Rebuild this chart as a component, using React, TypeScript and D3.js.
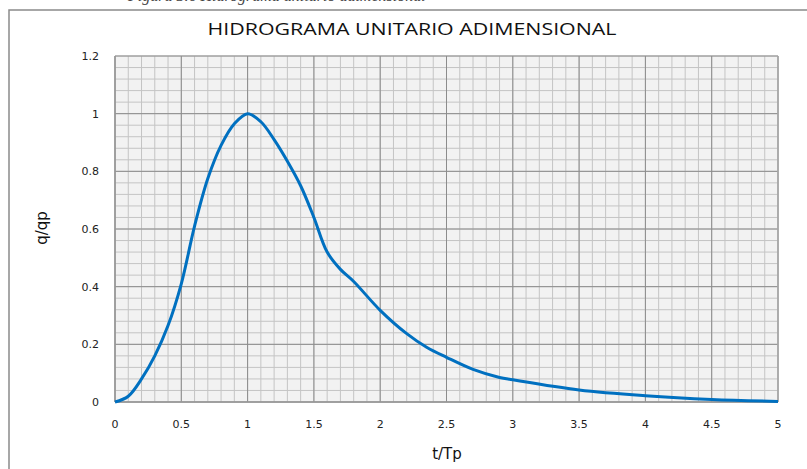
import React, { useEffect, useRef } from 'react'
import * as d3 from 'd3'

// t/Tp vs q/qp
const tRatio = [0, 0.1, 0.2, 0.3, 0.4, 0.5, 0.6, 0.7, 0.8, 0.9, 1.0, 1.1, 1.2, 1.3, 1.4, 1.5, 1.6, 1.7, 1.8, 2.0, 2.2, 2.35, 2.5, 2.7, 2.9, 3.0, 3.5, 4.0, 4.5, 5.0]
const qRatio = [0, 0.02, 0.08, 0.16, 0.265, 0.41, 0.61, 0.775, 0.89, 0.965, 1.0, 0.972, 0.91, 0.835, 0.75, 0.64, 0.52, 0.46, 0.418, 0.318, 0.237, 0.19, 0.155, 0.113, 0.085, 0.077, 0.042, 0.022, 0.009, 0.002]
const xTicks = [0, 0.5, 1, 1.5, 2, 2.5, 3, 3.5, 4, 4.5, 5]
const yTicks = [0, 0.2, 0.4, 0.6, 0.8, 1, 1.2]

export default function App() {
  const ref = useRef<HTMLDivElement | null>(null)

  useEffect(() => {
    const container = d3.select(ref.current!)
    container.selectAll('*').remove()
    const width = 807
    const height = 469
    const m = { top: 56, right: 29, bottom: 67, left: 115 }
    const svg = container.append('svg')
      .attr('width', width).attr('height', height)
      .style('position', 'absolute').style('left', '0px').style('top', '0px')

    svg.append('rect').attr('width', width).attr('height', height).attr('fill', '#fff')

    // caption cut off at the top of the image (only its lower edge shows)
    svg.append('text').attr('x', 128).attr('y', 1)
      .attr('font-family', 'Liberation Serif').attr('font-style', 'italic').attr('font-size', 16)
      .attr('fill', '#444').text('Figura 3.6 Hidrograma unitario adimensional')

    // chart frame
    svg.append('rect').attr('x', 9).attr('y', 10).attr('width', 830).attr('height', 480)
      .attr('fill', 'none').attr('stroke', '#8a8a8a').attr('stroke-width', 1.5)

    const x = d3.scaleLinear().domain([0, 5]).range([m.left, width - m.right])
    const y = d3.scaleLinear().domain([0, 1.2]).range([height - m.bottom, m.top])

    const g = svg.append('g')
    g.append('rect').attr('x', x(0)).attr('y', y(1.2)).attr('width', x(5) - x(0)).attr('height', y(0) - y(1.2))
      .attr('fill', '#f2f2f2')

    const minorX = d3.range(0, 51).map(i => i / 10)
    const minorY = d3.range(0, 31).map(i => i * 0.04)
    g.append('g').selectAll('line').data(minorX).enter().append('line')
      .attr('x1', d => x(d)).attr('x2', d => x(d)).attr('y1', y(0)).attr('y2', y(1.2))
      .attr('stroke', '#c4c4c4').attr('stroke-width', 1)
    g.append('g').selectAll('line').data(minorY).enter().append('line')
      .attr('y1', d => y(d)).attr('y2', d => y(d)).attr('x1', x(0)).attr('x2', x(5))
      .attr('stroke', '#c4c4c4').attr('stroke-width', 1)
    g.append('g').selectAll('line').data(xTicks).enter().append('line')
      .attr('x1', d => x(d)).attr('x2', d => x(d)).attr('y1', y(0)).attr('y2', y(1.2))
      .attr('stroke', '#8c8c8c').attr('stroke-width', 1)
    g.append('g').selectAll('line').data(yTicks).enter().append('line')
      .attr('y1', d => y(d)).attr('y2', d => y(d)).attr('x1', x(0)).attr('x2', x(5))
      .attr('stroke', '#8c8c8c').attr('stroke-width', 1)
    // axis lines
    g.append('line').attr('x1', x(0)).attr('x2', x(0)).attr('y1', y(0)).attr('y2', y(1.2)).attr('stroke', '#999').attr('stroke-width', 1.5)
    g.append('line').attr('x1', x(0)).attr('x2', x(5)).attr('y1', y(0)).attr('y2', y(0)).attr('stroke', '#999').attr('stroke-width', 1.5)
    g.append('line').attr('x1', x(5)).attr('x2', x(5)).attr('y1', y(0)).attr('y2', y(1.2)).attr('stroke', '#aaa').attr('stroke-width', 1.5)

    const pts = tRatio.map((t, i) => [t, qRatio[i]] as [number, number])
    const line = d3.line<[number, number]>().x(d => x(d[0])).y(d => y(d[1])).curve(d3.curveCatmullRom.alpha(0.5))
    g.append('path').attr('d', line(pts)!).attr('fill', 'none').attr('stroke', '#0070c0').attr('stroke-width', 3)

    const font = 'DejaVu Sans, Verdana, sans-serif'
    g.append('g').selectAll('text').data(xTicks).enter().append('text')
      .attr('x', d => x(d)).attr('y', 428).attr('text-anchor', 'middle')
      .attr('font-family', font).attr('font-size', 11).attr('fill', '#222')
      .text(d => String(d))
    g.append('g').selectAll('text').data(yTicks).enter().append('text')
      .attr('x', 99).attr('y', d => y(d) + 4).attr('text-anchor', 'end')
      .attr('font-family', font).attr('font-size', 11).attr('fill', '#222')
      .text(d => String(d))

    svg.append('text').attr('x', 412).attr('y', 35).attr('text-anchor', 'middle')
      .attr('font-family', 'Open Sans, sans-serif').attr('font-size', 16.5).attr('fill', '#111')
      .attr('textLength', 409).attr('lengthAdjust', 'spacingAndGlyphs')
      .text('HIDROGRAMA UNITARIO ADIMENSIONAL')
    svg.append('text').attr('x', 447).attr('y', 459).attr('text-anchor', 'middle')
      .attr('font-family', font).attr('font-size', 15).attr('fill', '#111').text('t/Tp')
    svg.append('text').attr('transform', 'translate(47,228) rotate(-90)').attr('text-anchor', 'middle')
      .attr('font-family', font).attr('font-size', 15).attr('fill', '#111').text('q/qp')
  }, [])

  return <div ref={ref} />
}
